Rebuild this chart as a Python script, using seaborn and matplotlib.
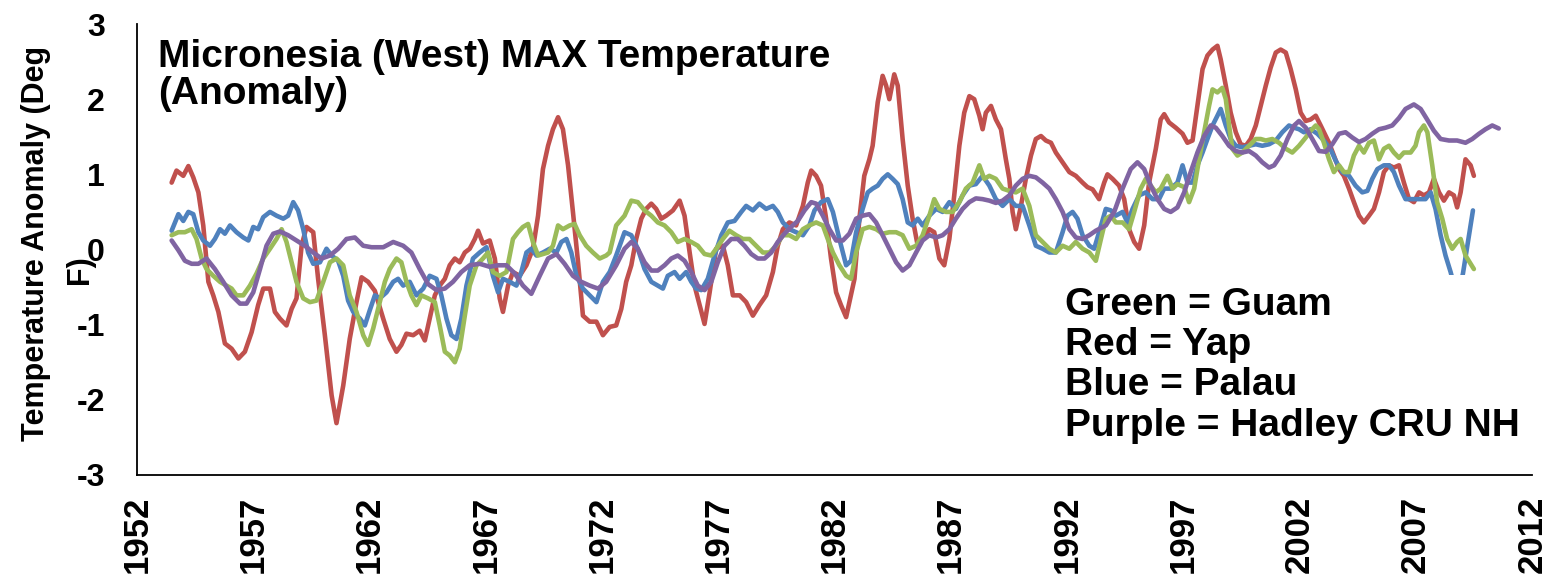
import matplotlib
matplotlib.use("Agg")
import matplotlib.pyplot as plt
from matplotlib.patches import Rectangle
import seaborn as sns
import pandas as pd

# ---------------- data ----------------
yap_years = [
    1953.49, 1953.70, 1953.99, 1954.21, 1954.42, 1954.64, 1954.85, 1955.07, 1955.28, 1955.50,
    1955.78, 1956.07, 1956.36, 1956.64, 1956.93, 1957.21, 1957.43, 1957.72, 1957.93, 1958.15,
    1958.43, 1958.65, 1958.86, 1959.08, 1959.29, 1959.58, 1959.79, 1960.08, 1960.37, 1960.58,
    1960.87, 1961.15, 1961.44, 1961.66, 1961.94, 1962.23, 1962.59, 1962.87, 1963.16, 1963.37,
    1963.59, 1963.88, 1964.16, 1964.38, 1964.59, 1964.81, 1965.02, 1965.24, 1965.45, 1965.67,
    1965.88, 1966.10, 1966.31, 1966.53, 1966.67, 1966.88, 1967.17, 1967.39, 1967.60, 1967.74,
    1967.96, 1968.17, 1968.46, 1968.75, 1969.03, 1969.25, 1969.46, 1969.68, 1969.89, 1970.11,
    1970.32, 1970.54, 1970.75, 1970.97, 1971.18, 1971.47, 1971.76, 1972.04, 1972.33, 1972.61,
    1972.83, 1973.04, 1973.26, 1973.47, 1973.69, 1973.90, 1974.12, 1974.33, 1974.55, 1974.76,
    1975.05, 1975.34, 1975.55, 1975.77, 1975.98, 1976.20, 1976.41, 1976.63, 1976.91, 1977.20,
    1977.41, 1977.63, 1977.92, 1978.20, 1978.49, 1978.77, 1979.06, 1979.35, 1979.56, 1979.78,
    1980.06, 1980.35, 1980.64, 1980.85, 1981.00, 1981.21, 1981.42, 1981.64, 1981.85, 1982.07,
    1982.28, 1982.50, 1982.86, 1983.07, 1983.28, 1983.50, 1983.64, 1983.86, 1984.07, 1984.22,
    1984.36, 1984.57, 1984.72, 1984.93, 1985.15, 1985.36, 1985.58, 1985.79, 1986.08, 1986.29,
    1986.51, 1986.72, 1986.94, 1987.15, 1987.37, 1987.58, 1987.80, 1988.01, 1988.23, 1988.37,
    1988.51, 1988.73, 1988.94, 1989.16, 1989.37, 1989.52, 1989.66, 1989.80, 1990.02, 1990.23,
    1990.45, 1990.66, 1990.88, 1991.09, 1991.31, 1991.52, 1991.81, 1992.10, 1992.38, 1992.67,
    1992.88, 1993.10, 1993.38, 1993.60, 1993.74, 1993.96, 1994.24, 1994.46, 1994.67, 1994.89,
    1995.10, 1995.32, 1995.53, 1995.82, 1996.03, 1996.18, 1996.39, 1996.68, 1996.97, 1997.18,
    1997.40, 1997.61, 1997.83, 1998.04, 1998.26, 1998.47, 1998.61, 1998.83, 1999.04, 1999.26,
    1999.47, 1999.69, 1999.90, 2000.12, 2000.33, 2000.55, 2000.76, 2000.98, 2001.19, 2001.41,
    2001.62, 2001.84, 2002.05, 2002.27, 2002.48, 2002.70, 2002.91, 2003.05, 2003.27, 2003.48,
    2003.70, 2003.91, 2004.13, 2004.34, 2004.56, 2004.77, 2004.99, 2005.20, 2005.42, 2005.63,
    2005.85, 2006.06, 2006.28, 2006.49, 2006.71, 2006.92, 2007.14, 2007.35, 2007.57, 2007.78,
    2008.00, 2008.21, 2008.43, 2008.64, 2008.78, 2008.93, 2009.14, 2009.36, 2009.50,
]
yap_values = [
    0.89, 1.05, 0.98, 1.11, 0.96, 0.76, 0.32, -0.43, -0.61, -0.83,
    -1.25, -1.32, -1.45, -1.36, -1.10, -0.74, -0.52, -0.52, -0.83, -0.92,
    -1.01, -0.79, -0.65, 0.05, 0.30, 0.23, -0.39, -1.14, -1.94, -2.31,
    -1.81, -1.19, -0.70, -0.37, -0.43, -0.55, -0.92, -1.19, -1.36, -1.27,
    -1.12, -1.14, -1.08, -1.21, -0.92, -0.61, -0.48, -0.39, -0.21, -0.12,
    -0.17, -0.04, 0.01, 0.14, 0.25, 0.08, 0.12, -0.12, -0.65, -0.83,
    -0.48, -0.30, -0.35, -0.21, 0.01, 0.45, 1.07, 1.38, 1.60, 1.76,
    1.60, 1.12, 0.50, -0.17, -0.88, -0.96, -0.96, -1.14, -1.03, -1.01,
    -0.79, -0.43, -0.21, 0.14, 0.41, 0.54, 0.61, 0.54, 0.41, 0.45,
    0.52, 0.65, 0.45, -0.04, -0.48, -0.74, -0.99, -0.57, 0.01, 0.05,
    -0.21, -0.61, -0.61, -0.70, -0.88, -0.74, -0.61, -0.30, 0.05, 0.27,
    0.36, 0.32, 0.58, 0.89, 1.05, 0.98, 0.85, 0.41, -0.12, -0.57,
    -0.74, -0.90, -0.39, 0.41, 0.98, 1.20, 1.38, 1.96, 2.31, 2.18,
    2.00, 2.33, 2.18, 1.47, 0.85, 0.41, 0.05, 0.14, 0.27, 0.23,
    -0.12, -0.21, 0.14, 0.72, 1.38, 1.82, 2.04, 2.00, 1.78, 1.60,
    1.82, 1.91, 1.73, 1.60, 1.20, 0.94, 0.50, 0.27, 0.58, 0.94,
    1.25, 1.47, 1.51, 1.45, 1.42, 1.29, 1.16, 1.03, 0.98, 0.89,
    0.83, 0.80, 0.67, 0.89, 1.00, 0.94, 0.85, 0.67, 0.27, 0.10,
    0.01, 0.32, 0.89, 1.34, 1.73, 1.80, 1.69, 1.62, 1.54, 1.42,
    1.45, 1.91, 2.40, 2.58, 2.66, 2.71, 2.53, 2.18, 1.82, 1.56,
    1.40, 1.38, 1.47, 1.65, 1.91, 2.18, 2.42, 2.62, 2.66, 2.62,
    2.40, 2.13, 1.82, 1.71, 1.73, 1.78, 1.65, 1.56, 1.42, 1.25,
    1.07, 0.98, 0.81, 0.63, 0.45, 0.36, 0.45, 0.54, 0.76, 1.03,
    1.12, 1.09, 1.12, 0.89, 0.67, 0.63, 0.76, 0.72, 0.76, 0.94,
    0.76, 0.65, 0.76, 0.72, 0.56, 0.76, 1.20, 1.12, 0.98,
]

palau_years = [
    1953.49, 1953.78, 1953.99, 1954.21, 1954.42, 1954.64, 1954.85, 1955.14, 1955.35, 1955.57,
    1955.78, 1956.00, 1956.28, 1956.57, 1956.79, 1957.00, 1957.21, 1957.43, 1957.72, 1958.00,
    1958.29, 1958.50, 1958.72, 1958.93, 1959.15, 1959.36, 1959.58, 1959.87, 1960.15, 1960.37,
    1960.65, 1960.87, 1961.08, 1961.30, 1961.59, 1961.80, 1962.01, 1962.23, 1962.44, 1962.73,
    1963.02, 1963.23, 1963.45, 1963.73, 1964.02, 1964.31, 1964.59, 1964.88, 1965.09, 1965.31,
    1965.52, 1965.74, 1965.95, 1966.17, 1966.45, 1966.74, 1967.03, 1967.31, 1967.53, 1967.74,
    1968.03, 1968.32, 1968.53, 1968.75, 1968.96, 1969.18, 1969.46, 1969.75, 1970.04, 1970.25,
    1970.47, 1970.68, 1970.90, 1971.18, 1971.47, 1971.76, 1972.04, 1972.33, 1972.61, 1972.97,
    1973.26, 1973.54, 1973.83, 1974.12, 1974.40, 1974.62, 1974.83, 1975.12, 1975.34, 1975.62,
    1975.84, 1976.05, 1976.27, 1976.55, 1976.84, 1977.13, 1977.41, 1977.70, 1977.99, 1978.20,
    1978.49, 1978.77, 1979.06, 1979.35, 1979.56, 1979.78, 1980.06, 1980.35, 1980.64, 1980.92,
    1981.14, 1981.42, 1981.71, 1981.93, 1982.21, 1982.50, 1982.71, 1982.93, 1983.21, 1983.43,
    1983.64, 1983.86, 1984.07, 1984.29, 1984.50, 1984.72, 1984.93, 1985.15, 1985.36, 1985.58,
    1985.79, 1986.08, 1986.37, 1986.65, 1986.94, 1987.22, 1987.51, 1987.80, 1988.08, 1988.37,
    1988.66, 1988.94, 1989.23, 1989.52, 1989.80, 1990.09, 1990.38, 1990.66, 1990.95, 1991.24,
    1991.52, 1991.81, 1992.02, 1992.24, 1992.45, 1992.67, 1992.96, 1993.17, 1993.38, 1993.67,
    1993.89, 1994.10, 1994.39, 1994.60, 1994.82, 1995.10, 1995.39, 1995.68, 1995.96, 1996.18,
    1996.46, 1996.75, 1996.97, 1997.18, 1997.40, 1997.61, 1997.83, 1998.04, 1998.26, 1998.47,
    1998.61, 1998.83, 1999.04, 1999.26, 1999.54, 1999.83, 2000.12, 2000.40, 2000.69, 2000.98,
    2001.26, 2001.55, 2001.77, 2001.98, 2002.19, 2002.48, 2002.77, 2003.05, 2003.34, 2003.56,
    2003.84, 2004.13, 2004.41, 2004.70, 2004.92, 2005.13, 2005.35, 2005.63, 2005.85, 2006.06,
    2006.28, 2006.56, 2006.85, 2007.14, 2007.42, 2007.64, 2007.85, 2008.07, 2008.28, 2008.50,
    2008.71, 2008.90, 2009.03, 2009.46,
]
palau_values = [
    0.25, 0.47, 0.38, 0.50, 0.47, 0.23, 0.12, 0.05, 0.14, 0.27,
    0.21, 0.32, 0.23, 0.16, 0.12, 0.30, 0.27, 0.43, 0.50, 0.45,
    0.41, 0.45, 0.63, 0.52, 0.27, -0.04, -0.19, -0.17, 0.01, -0.08,
    -0.15, -0.35, -0.68, -0.83, -0.92, -1.01, -0.81, -0.61, -0.65, -0.57,
    -0.43, -0.39, -0.48, -0.43, -0.61, -0.52, -0.35, -0.39, -0.61, -0.92,
    -1.14, -1.19, -0.92, -0.48, -0.12, -0.04, 0.03, -0.35, -0.57, -0.39,
    -0.43, -0.48, -0.30, -0.04, 0.01, -0.08, -0.04, 0.01, -0.04, 0.10,
    0.14, -0.04, -0.35, -0.52, -0.61, -0.70, -0.43, -0.30, -0.08, 0.23,
    0.19, 0.01, -0.26, -0.43, -0.48, -0.52, -0.35, -0.30, -0.39, -0.30,
    -0.43, -0.52, -0.54, -0.39, -0.08, 0.19, 0.36, 0.38, 0.50, 0.58,
    0.52, 0.61, 0.54, 0.58, 0.50, 0.36, 0.27, 0.23, 0.19, 0.32,
    0.52, 0.63, 0.67, 0.50, 0.14, -0.21, -0.15, 0.23, 0.54, 0.76,
    0.81, 0.85, 0.94, 1.00, 0.94, 0.87, 0.67, 0.36, 0.32, 0.41,
    0.32, 0.45, 0.54, 0.50, 0.63, 0.54, 0.72, 0.85, 0.87, 0.98,
    0.85, 0.67, 0.58, 0.67, 0.58, 0.58, 0.32, 0.05, 0.01, -0.04,
    -0.04, 0.23, 0.45, 0.50, 0.41, 0.19, 0.05, 0.01, 0.23, 0.54,
    0.52, 0.45, 0.50, 0.36, 0.54, 0.72, 0.76, 0.67, 0.67, 0.81,
    0.81, 0.89, 1.12, 0.89, 0.89, 1.12, 1.29, 1.47, 1.65, 1.78,
    1.87, 1.65, 1.47, 1.38, 1.36, 1.38, 1.40, 1.38, 1.40, 1.45,
    1.56, 1.65, 1.62, 1.60, 1.56, 1.60, 1.54, 1.45, 1.33, 1.18,
    1.03, 0.98, 0.85, 0.76, 0.78, 0.94, 1.07, 1.12, 1.12, 1.03,
    0.85, 0.67, 0.67, 0.67, 0.67, 0.76, 0.54, 0.19, -0.08, -0.30,
    -0.55, -0.50, -0.32, 0.52,
]

guam_years = [
    1953.49, 1953.78, 1954.06, 1954.35, 1954.56, 1954.78, 1954.99, 1955.28, 1955.57, 1955.85,
    1956.07, 1956.28, 1956.57, 1956.86, 1957.14, 1957.43, 1957.72, 1958.00, 1958.22, 1958.43,
    1958.65, 1958.86, 1959.15, 1959.44, 1959.72, 1960.01, 1960.30, 1960.58, 1960.87, 1961.15,
    1961.44, 1961.73, 1961.94, 1962.16, 1962.44, 1962.66, 1962.87, 1963.16, 1963.37, 1963.59,
    1963.80, 1964.02, 1964.23, 1964.52, 1964.81, 1965.02, 1965.24, 1965.45, 1965.67, 1965.88,
    1966.10, 1966.31, 1966.60, 1966.88, 1967.10, 1967.31, 1967.60, 1967.89, 1968.17, 1968.39,
    1968.60, 1968.82, 1969.03, 1969.25, 1969.46, 1969.68, 1969.89, 1970.11, 1970.32, 1970.61,
    1970.82, 1971.04, 1971.32, 1971.61, 1971.90, 1972.18, 1972.33, 1972.61, 1972.97, 1973.26,
    1973.54, 1973.83, 1974.12, 1974.40, 1974.69, 1974.98, 1975.26, 1975.55, 1975.84, 1976.12,
    1976.41, 1976.70, 1976.91, 1977.20, 1977.48, 1977.77, 1978.06, 1978.34, 1978.63, 1978.92,
    1979.20, 1979.49, 1979.78, 1980.06, 1980.35, 1980.64, 1980.92, 1981.21, 1981.50, 1981.71,
    1981.93, 1982.21, 1982.50, 1982.71, 1982.93, 1983.21, 1983.50, 1983.79, 1984.07, 1984.36,
    1984.65, 1984.93, 1985.22, 1985.51, 1985.79, 1986.08, 1986.29, 1986.51, 1986.79, 1987.08,
    1987.37, 1987.65, 1987.94, 1988.23, 1988.44, 1988.66, 1988.94, 1989.23, 1989.52, 1989.80,
    1990.09, 1990.38, 1990.66, 1990.95, 1991.24, 1991.52, 1991.81, 1992.10, 1992.38, 1992.67,
    1992.96, 1993.24, 1993.46, 1993.67, 1993.89, 1994.10, 1994.39, 1994.67, 1994.89, 1995.17,
    1995.39, 1995.60, 1995.82, 1996.03, 1996.32, 1996.54, 1996.75, 1997.04, 1997.25, 1997.47,
    1997.68, 1997.90, 1998.11, 1998.26, 1998.47, 1998.68, 1998.83, 1998.97, 1999.11, 1999.33,
    1999.54, 1999.83, 2000.12, 2000.33, 2000.55, 2000.83, 2001.12, 2001.41, 2001.69, 2001.98,
    2002.27, 2002.48, 2002.70, 2002.84, 2003.05, 2003.27, 2003.48, 2003.70, 2003.91, 2004.13,
    2004.34, 2004.56, 2004.77, 2004.99, 2005.20, 2005.42, 2005.63, 2005.85, 2006.06, 2006.28,
    2006.49, 2006.78, 2006.99, 2007.14, 2007.35, 2007.50, 2007.71, 2007.92, 2008.14, 2008.35,
    2008.57, 2008.78, 2008.93, 2009.14, 2009.50,
]
guam_values = [
    0.19, 0.23, 0.23, 0.27, 0.14, -0.12, -0.26, -0.35, -0.43, -0.48,
    -0.52, -0.61, -0.61, -0.48, -0.32, -0.12, 0.01, 0.14, 0.27, 0.10,
    -0.17, -0.43, -0.65, -0.70, -0.68, -0.43, -0.17, -0.12, -0.21, -0.61,
    -0.83, -1.14, -1.27, -1.05, -0.70, -0.43, -0.26, -0.12, -0.17, -0.43,
    -0.61, -0.74, -0.61, -0.65, -0.70, -1.01, -1.36, -1.41, -1.50, -1.32,
    -0.88, -0.48, -0.21, -0.12, -0.04, -0.30, -0.35, -0.30, 0.14, 0.23,
    0.30, 0.34, 0.10, -0.08, -0.06, -0.04, 0.05, 0.32, 0.27, 0.32,
    0.34, 0.19, 0.05, -0.04, -0.12, -0.08, -0.04, 0.32, 0.45, 0.65,
    0.63, 0.52, 0.45, 0.36, 0.32, 0.23, 0.10, 0.14, 0.10, 0.05,
    -0.06, -0.08, 0.01, 0.14, 0.25, 0.19, 0.14, 0.14, 0.05, -0.04,
    -0.04, 0.05, 0.19, 0.19, 0.14, 0.27, 0.32, 0.36, 0.32, 0.14,
    -0.04, -0.21, -0.35, -0.39, -0.04, 0.27, 0.30, 0.27, 0.21, 0.23,
    0.23, 0.19, 0.01, 0.05, 0.19, 0.45, 0.67, 0.54, 0.50, 0.50,
    0.63, 0.81, 0.89, 1.12, 0.94, 0.98, 0.94, 0.81, 0.78, 0.76,
    0.81, 0.58, 0.19, 0.10, 0.01, -0.04, 0.05, 0.01, 0.10, 0.01,
    -0.04, -0.15, 0.14, 0.41, 0.45, 0.36, 0.36, 0.27, 0.50, 0.81,
    0.94, 0.85, 0.76, 0.81, 0.98, 0.81, 0.87, 0.83, 0.63, 0.81,
    1.20, 1.56, 1.91, 2.13, 2.09, 2.15, 2.00, 1.65, 1.34, 1.25,
    1.29, 1.38, 1.47, 1.47, 1.45, 1.47, 1.42, 1.34, 1.29, 1.38,
    1.49, 1.58, 1.65, 1.60, 1.42, 1.20, 1.03, 1.12, 1.03, 1.03,
    1.25, 1.38, 1.29, 1.42, 1.45, 1.20, 1.34, 1.38, 1.29, 1.22,
    1.29, 1.29, 1.38, 1.56, 1.65, 1.56, 1.12, 0.63, 0.41, 0.14,
    0.01, 0.10, 0.14, -0.08, -0.26,
]

hadley_years = [
    1953.49, 1953.78, 1954.06, 1954.35, 1954.64, 1954.99, 1955.35, 1955.71, 1956.07, 1956.43,
    1956.71, 1957.00, 1957.29, 1957.57, 1957.86, 1958.15, 1958.50, 1958.86, 1959.22, 1959.58,
    1959.94, 1960.30, 1960.65, 1961.01, 1961.37, 1961.73, 1962.09, 1962.59, 1963.02, 1963.45,
    1963.80, 1964.16, 1964.52, 1964.88, 1965.24, 1965.59, 1965.95, 1966.31, 1966.74, 1967.17,
    1967.53, 1967.89, 1968.25, 1968.60, 1968.96, 1969.32, 1969.68, 1970.04, 1970.39, 1970.75,
    1971.11, 1971.47, 1971.83, 1972.18, 1972.61, 1972.97, 1973.26, 1973.54, 1973.83, 1974.12,
    1974.40, 1974.69, 1974.98, 1975.26, 1975.55, 1975.84, 1976.12, 1976.41, 1976.70, 1976.98,
    1977.27, 1977.56, 1977.84, 1978.13, 1978.42, 1978.70, 1978.99, 1979.28, 1979.56, 1979.85,
    1980.13, 1980.42, 1980.71, 1981.00, 1981.21, 1981.50, 1981.78, 1982.07, 1982.36, 1982.64,
    1982.93, 1983.21, 1983.50, 1983.79, 1984.07, 1984.36, 1984.65, 1984.93, 1985.22, 1985.51,
    1985.79, 1986.08, 1986.37, 1986.65, 1986.94, 1987.22, 1987.51, 1987.80, 1988.08, 1988.37,
    1988.66, 1988.94, 1989.23, 1989.52, 1989.80, 1990.09, 1990.38, 1990.66, 1990.95, 1991.24,
    1991.52, 1991.81, 1992.10, 1992.38, 1992.67, 1992.96, 1993.24, 1993.67, 1994.03, 1994.39,
    1994.74, 1995.03, 1995.32, 1995.60, 1995.89, 1996.18, 1996.46, 1996.75, 1997.04, 1997.32,
    1997.61, 1997.90, 1998.18, 1998.40, 1998.68, 1998.97, 1999.26, 1999.54, 1999.83, 2000.12,
    2000.40, 2000.69, 2000.91, 2001.19, 2001.48, 2001.77, 2001.98, 2002.27, 2002.55, 2002.84,
    2003.13, 2003.41, 2003.70, 2003.98, 2004.27, 2004.56, 2004.84, 2005.13, 2005.42, 2005.70,
    2005.99, 2006.28, 2006.56, 2006.92, 2007.21, 2007.49, 2007.78, 2008.07, 2008.43, 2008.78,
    2009.14, 2009.43, 2009.72, 2010.00, 2010.29, 2010.57,
]
hadley_values = [
    0.12, -0.01, -0.15, -0.19, -0.19, -0.12, -0.26, -0.43, -0.61, -0.72,
    -0.72, -0.57, -0.26, 0.05, 0.21, 0.24, 0.19, 0.12, 0.05, -0.04,
    -0.12, -0.08, 0.01, 0.14, 0.16, 0.05, 0.03, 0.03, 0.10, 0.05,
    -0.04, -0.26, -0.46, -0.54, -0.52, -0.43, -0.30, -0.21, -0.19, -0.23,
    -0.21, -0.21, -0.32, -0.48, -0.59, -0.35, -0.12, -0.06, -0.19, -0.35,
    -0.43, -0.48, -0.52, -0.43, -0.21, 0.01, 0.10, 0.01, -0.17, -0.28,
    -0.28, -0.21, -0.12, -0.08, -0.15, -0.30, -0.48, -0.54, -0.43, -0.17,
    0.05, 0.14, 0.14, 0.05, -0.06, -0.12, -0.12, -0.04, 0.10, 0.21,
    0.30, 0.38, 0.52, 0.63, 0.61, 0.45, 0.27, 0.12, 0.12, 0.21,
    0.41, 0.45, 0.47, 0.36, 0.19, 0.01, -0.17, -0.28, -0.21, -0.04,
    0.12, 0.19, 0.16, 0.19, 0.27, 0.41, 0.54, 0.63, 0.68, 0.67,
    0.65, 0.62, 0.65, 0.72, 0.85, 0.94, 0.98, 0.96, 0.89, 0.81,
    0.67, 0.50, 0.27, 0.16, 0.14, 0.19, 0.25, 0.32, 0.50, 0.81,
    1.07, 1.16, 1.07, 0.85, 0.67, 0.54, 0.50, 0.56, 0.76, 1.03,
    1.29, 1.51, 1.65, 1.62, 1.51, 1.38, 1.31, 1.29, 1.31, 1.25,
    1.16, 1.09, 1.12, 1.25, 1.47, 1.65, 1.71, 1.62, 1.47, 1.31,
    1.30, 1.40, 1.54, 1.56, 1.49, 1.43, 1.47, 1.54, 1.60, 1.62,
    1.65, 1.75, 1.87, 1.93, 1.87, 1.73, 1.58, 1.47, 1.45, 1.45,
    1.42, 1.47, 1.54, 1.60, 1.65, 1.61,
]

series_names = ["Yap", "Palau", "Guam", "Hadley CRU NH"]
series_colors = ["#C0504D", "#4F81BD", "#9BBB59", "#8064A2"]

x_ticks = [1952, 1957, 1962, 1967, 1972, 1977, 1982, 1987, 1992, 1997, 2002, 2007, 2012]
y_ticks = [-3, -2, -1, 0, 1, 2, 3]

title_text = "Micronesia (West) MAX Temperature\n(Anomaly)"
ylabel_line1 = "Temperature Anomaly (Deg"
ylabel_line2 = "F)"
key_text = "Green = Guam\nRed = Yap\nBlue = Palau\nPurple = Hadley CRU NH"

# ---------------- build table ----------------
frames = []
for name, yrs, vals in [("Yap", yap_years, yap_values),
                        ("Palau", palau_years, palau_values),
                        ("Guam", guam_years, guam_values),
                        ("Hadley CRU NH", hadley_years, hadley_values)]:
    assert len(yrs) == len(vals), name
    frames.append(pd.DataFrame({"year": yrs, "anomaly": vals, "series": name}))
df = pd.concat(frames, ignore_index=True)

# ---------------- style ----------------
sns.set_style("white")
plt.rcParams["font.family"] = ["Liberation Sans", "DejaVu Sans"]
plt.rcParams["font.weight"] = "bold"
plt.rcParams["text.color"] = "black"
plt.rcParams["axes.labelcolor"] = "black"
plt.rcParams["xtick.color"] = "black"
plt.rcParams["ytick.color"] = "black"

fig = plt.figure(figsize=(15.56, 5.84), dpi=100)
ax = fig.add_axes([137 / 1556, 1 - 475 / 584, (1532 - 137) / 1556, (475 - 24) / 584])

sns.lineplot(data=df, x="year", y="anomaly", hue="series",
             hue_order=series_names, palette=series_colors,
             estimator=None, sort=True, linewidth=3.3, legend=False, ax=ax)

ax.set_xlim(x_ticks[0], x_ticks[-1])
ax.set_ylim(y_ticks[0], y_ticks[-1])
ax.set_xticks(x_ticks)
ax.set_yticks(y_ticks)
ax.set_xticklabels([str(t) for t in x_ticks], rotation=90, fontsize=25,
                   fontweight="bold", color="black")
ax.set_yticklabels([str(t) for t in y_ticks], fontsize=23, fontweight="bold",
                   color="black")
ax.set_xlabel("")
ax.set_ylabel("")

for side in ["top", "right"]:
    ax.spines[side].set_visible(False)
for side in ["left", "bottom"]:
    ax.spines[side].set_color("black")
    ax.spines[side].set_linewidth(1.3)
    ax.spines[side].set_zorder(5)
ax.tick_params(axis="both", direction="out", length=9, width=1.3, color="black")
ax.tick_params(axis="x", pad=6)
ax.tick_params(axis="y", pad=14)

# white text box of the key, which hides lines below it
ax.add_patch(Rectangle((1991.5, -3.0), 20.5, 2.66, facecolor="white",
                       edgecolor="none", zorder=3))
ax.text(1991.9, -0.5, key_text, fontsize=28, fontweight="bold", color="black",
        va="top", ha="left", linespacing=1.15, zorder=4)

ax.text(1952.9, 2.80, title_text, fontsize=28, fontweight="bold", color="black",
        va="top", ha="left", linespacing=1.05, zorder=4)

# y-axis title, wrapped over two lines as in the reference
fig.text(36 / 1556, 1 - 243 / 584, ylabel_line1, rotation=90, fontsize=22,
         fontweight="bold", color="black", ha="center", va="center")
fig.text(80 / 1556, 1 - 270 / 584, ylabel_line2, rotation=90, fontsize=22,
         fontweight="bold", color="black", ha="center", va="center")

fig.savefig("out.png", dpi=100)
